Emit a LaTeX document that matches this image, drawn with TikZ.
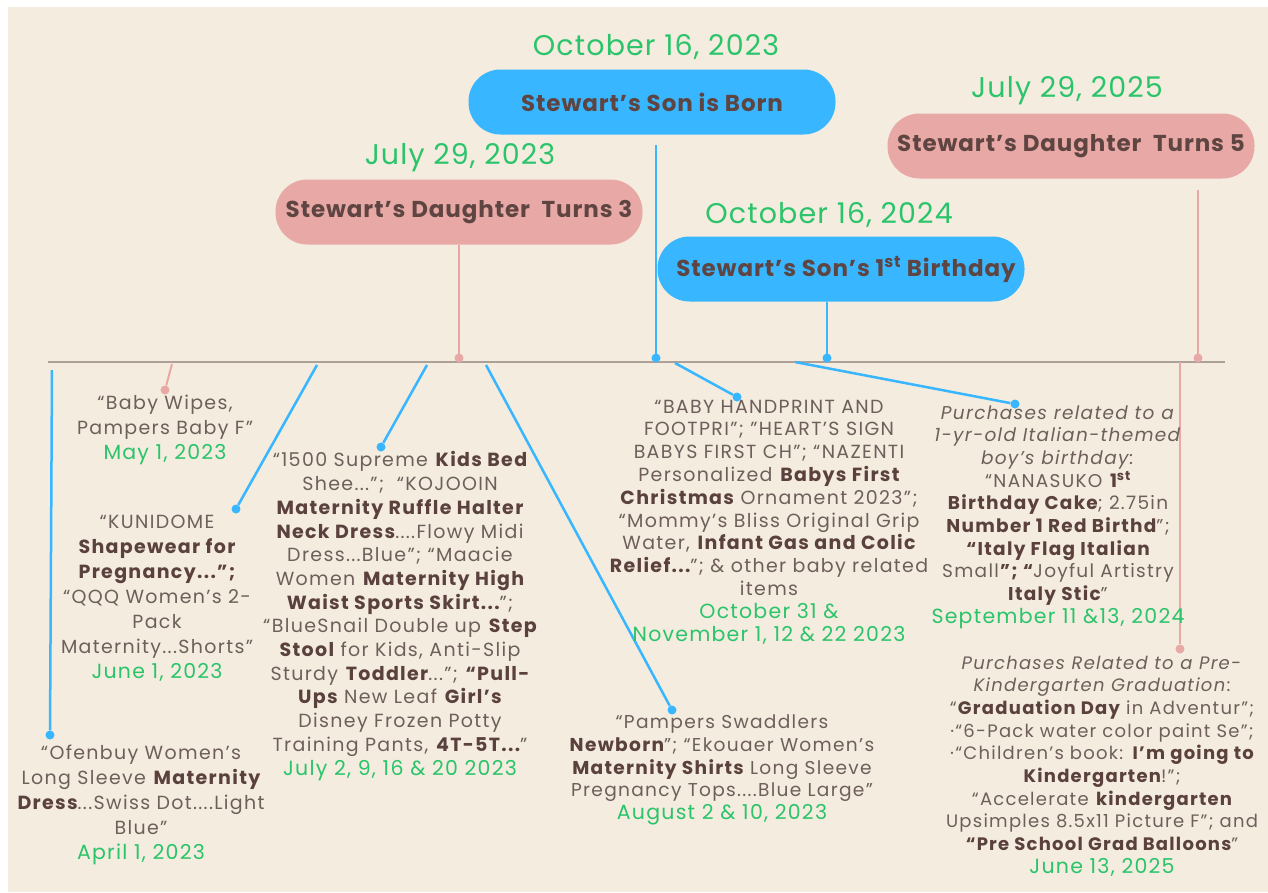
\documentclass[tikz,border=0pt]{standalone}
\usepackage{fontspec}
\setmainfont{Poppins}[LetterSpace=7]
\newfontfamily\datefont{Poppins}[LetterSpace=4]
\newfontfamily\pillfont{Poppins}[LetterSpace=4]
\newfontfamily\smalldatefont{Poppins}[LetterSpace=6]
\definecolor{bg}{HTML}{F4ECDF}
\definecolor{sky}{HTML}{38B6FF}
\definecolor{rose}{HTML}{E8A8A5}
\definecolor{dgreen}{HTML}{2BC46A}
\definecolor{txt}{HTML}{6E5F5B}
\definecolor{bbrown}{HTML}{5B413D}
\definecolor{pilltext}{HTML}{5E4541}
\definecolor{tlgray}{HTML}{ADA099}
\newcommand{\hbold}[1]{\textbf{\textcolor{bbrown}{#1}}}
\newcommand{\mydate}[1]{{\smalldatefont\fontsize{20.5}{24}\selectfont\textcolor{dgreen}{#1}}}
\begin{document}
\begin{tikzpicture}[x=1pt,y=-1pt,
  pill/.style={rounded corners=32pt, minimum width=367pt, minimum height=65pt, inner sep=0pt, text=pilltext, font=\pillfont\fontsize{23}{27}\selectfont\bfseries},
  pblue/.style={pill, fill=sky},
  ppink/.style={pill, fill=rose},
  topdate/.style={text=dgreen, inner sep=0pt, font=\datefont\fontsize{28.5}{32}\selectfont},
  txtblock/.style={align=center, text=txt, inner sep=0pt, font=\fontsize{19}{#1}\selectfont},
  bdot/.style={circle, fill=sky, inner sep=0pt, minimum size=9pt},
  pdot/.style={circle, fill=rose, inner sep=0pt, minimum size=9pt},
  bline/.style={draw=sky, line width=2.5pt},
  pline/.style={draw=rose, line width=2pt},
  tline/.style={draw=tlgray, line width=2pt}]
\useasboundingbox (0,0) rectangle (1268,892);
\fill[white] (0,0) rectangle (1268,892);
\fill[bg] (8,7) rectangle (1268,892);

% timeline
\coordinate (tlL) at (48,362);
\coordinate (tlR) at (1225,362);
\draw[tline] (tlL) -- (tlR);

% top events
\node[topdate] (dt1) at (656,47) {October 16, 2023};
\node[pblue] (p1) at (652,102) {Stewart’s Son is Born};
\node[topdate] (dt2) at (460,158) {July 29, 2023};
\node[ppink] (p2) at (459,212) {Stewart’s Daughter\ \ Turns 3};
\node[topdate] (dt3) at (829,215) {October 16, 2024};
\node[pblue] (p3) at (841,269) {\hspace*{10pt}Stewart’s Son’s 1\textsuperscript{st} Birthday};
\node[topdate] (dt4) at (1067,91) {July 29, 2025};
\node[ppink] (p4) at (1071,146) {Stewart’s Daughter\ \ Turns 5};

\coordinate (c1) at (656,145);
\coordinate (c2) at (459,245);
\coordinate (c3) at (827,302);
\coordinate (c4) at (1198,190);
\draw[bline] (c1) -- (656,358) node[bdot] (d1) {};
\draw[pline] (c2) -- (459,358) node[pdot] (d2) {};
\draw[bline] (c3) -- (827,358) node[bdot] (d3) {};
\draw[pline] (c4) -- (1198,358) node[pdot] (d4) {};

% bottom connectors
\coordinate (s1) at (52,370);
\coordinate (s2) at (172,364);
\coordinate (s3) at (317,365);
\coordinate (s4) at (427,365);
\coordinate (s5) at (486,365);
\coordinate (s6) at (675,363);
\coordinate (s7) at (795,362);
\coordinate (s8) at (1180,362);
\node[bdot] (e1) at (50,735) {};
\node[pdot] (e2) at (165,390) {};
\node[bdot] (e3) at (236,509) {};
\node[bdot] (e4) at (381,447) {};
\node[bdot] (e5) at (672,710) {};
\node[bdot] (e6) at (737,397) {};
\node[bdot] (e7) at (1015,404) {};
\node[pdot] (e8) at (1180,649) {};
\draw[bline] (s1) -- (e1);
\draw[pline] (s2) -- (e2);
\draw[bline] (s3) -- (e3);
\draw[bline] (s4) -- (e4);
\draw[bline] (s5) -- (e5);
\draw[bline] (s6) -- (e6);
\draw[bline] (s7) -- (e7);
\draw[pline] (s8) -- (e8);

% text blocks
\node[txtblock=25] (tA) at (141,805) {“Ofenbuy Women’s\\
Long Sleeve \hbold{Maternity}\\
\hbold{Dress}...Swiss Dot....Light\\
Blue”\\
\mydate{April 1, 2023}};

\node[txtblock=25] (tB) at (165,430) {“Baby Wipes,\\
Pampers Baby F”\\
\mydate{May 1, 2023}};

\node[txtblock=25] (tC) at (157,598) {“KUNIDOME\\
\hbold{Shapewear for}\\
\hbold{Pregnancy...”;}\\
“QQQ Women’s 2-\\
Pack\\
Maternity...Shorts”\\
\mydate{June 1, 2023}};

\node[txtblock=23.7] (tD) at (400,616) {“1500 Supreme \hbold{Kids Bed}\\
Shee...”;\ \ “KOJOOIN\\
\hbold{Maternity Ruffle Halter}\\
\hbold{Neck Dress}....Flowy Midi\\
Dress...Blue”; “Maacie\\
Women \hbold{Maternity High}\\
\hbold{Waist Sports Skirt...}”;\\
“BlueSnail Double up \hbold{Step}\\
\hbold{Stool} for Kids, Anti-Slip\\
Sturdy \hbold{Toddler}...”; \hbold{“Pull-}\\
\hbold{Ups} New Leaf \hbold{Girl’s}\\
Disney Frozen Potty\\
Training Pants, \hbold{4T-5T...}”\\
\mydate{July 2, 9, 16 \& 20 2023}};

\node[txtblock=22.8] (tE) at (769,522) {“BABY HANDPRINT AND\\
FOOTPRI”; "HEART’S SIGN\\
BABYS FIRST CH”; “NAZENTI\\
Personalized \hbold{Babys First}\\
\hbold{Christmas} Ornament 2023";\\
“Mommy’s Bliss Original Grip\\
Water, \hbold{Infant Gas and Colic}\\
\hbold{Relief...}”; \& other baby related\\
items\\
\mydate{October 31 \&}\\
\mydate{November 1, 12 \& 22 2023}};

\node[txtblock=22.8, font=\fontsize{18.6}{22.8}\selectfont] (tH) at (722,770) {“Pampers Swaddlers\\
\hbold{Newborn}”; “Ekouaer Women’s\\
\hbold{Maternity Shirts} Long Sleeve\\
Pregnancy Tops....Blue Large”\\
\mydate{August 2 \& 10, 2023}};

\node[txtblock=22.7, font=\fontsize{18.5}{22.7}\selectfont] (tF) at (1058,517) {\textit{Purchases related to a}\\
\textit{1-yr-old Italian-themed}\\
\textit{boy’s birthday:}\\
“NANASUKO \hbold{1\textsuperscript{st}}\\
\hbold{Birthday Cake}; 2.75in\\
\hbold{Number 1 Red Birthd}”;\\
\hbold{“Italy Flag Italian}\\
Small\hbold{”; “}Joyful Artistry\\
\hbold{Italy Stic}”\\
\mydate{September 11 \&13, 2024}};

\node[txtblock=22.7, font=\fontsize{18}{22.7}\selectfont] (tG) at (1102,766) {\textit{Purchases Related to a Pre-}\\
\textit{Kindergarten Graduation}:\\
“\hbold{Graduation Day} in Adventur”;\\
·“6-Pack water color paint Se”;\\
·“Children’s book: \hbold{I’m going to}\\
\hbold{Kindergarten}!”;\\
“Accelerate \hbold{kindergarten}\\
Upsimples 8.5x11 Picture F”; and\\
\hbold{“Pre School Grad Balloons}”\\
\mydate{June 13, 2025}};
\end{tikzpicture}
\end{document}
